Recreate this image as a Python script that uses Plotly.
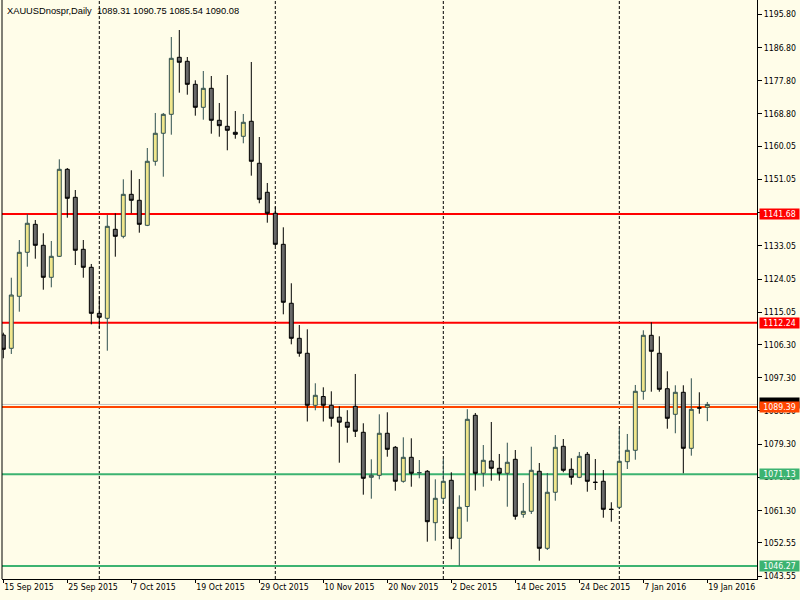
import plotly.graph_objects as go
import pandas as pd

# ---------------- data ----------------
symbol_title = "XAUUSDnospr,Daily"
holidays = ["2015-12-25", "2016-01-01"]
dates = [d for d in pd.bdate_range("2015-09-15", "2016-01-19").strftime("%Y-%m-%d") if d not in holidays]

opens = [1108.89, 1105.29, 1119.38, 1131.31, 1138.89, 1133.20, 1124.53, 1130.22, 1153.80, 1146.21,
         1132.12, 1127.24, 1114.77, 1113.42, 1137.54, 1135.64, 1147.02, 1145.40, 1138.62, 1155.97,
         1163.56, 1168.70, 1184.15, 1183.07, 1176.83, 1170.60, 1175.75, 1167.08, 1165.45, 1163.83,
         1162.74, 1166.81, 1155.43, 1147.57, 1141.88, 1133.47, 1117.49, 1108.00, 1103.94, 1089.84,
         1092.23, 1089.84, 1086.62, 1085.24, 1089.57, 1082.53, 1070.33, 1070.87, 1082.26, 1078.46,
         1069.25, 1075.75, 1071.55, 1071.96, 1058.03, 1064.64, 1069.52, 1053.80, 1062.42, 1087.13,
         1071.42, 1074.75, 1072.77, 1071.42, 1075.21, 1060.30, 1061.12, 1071.96, 1051.09, 1066.27,
         1078.73, 1072.50, 1070.33, 1076.56, 1069.00, 1069.25, 1061.68, 1062.20, 1074.56, 1077.65,
         1093.64, 1108.81, 1103.94, 1094.34, 1087.40, 1093.37, 1078.19, 1089.15, 1089.31]
highs = [1109.52, 1124.42, 1134.64, 1141.69, 1140.06, 1136.46, 1134.37, 1156.51, 1154.15, 1148.19,
         1134.64, 1128.14, 1119.38, 1141.41, 1141.88, 1151.09, 1153.53, 1151.17, 1159.57, 1169.06,
         1169.06, 1189.65, 1191.55, 1184.23, 1177.92, 1180.44, 1179.08, 1171.77, 1179.35, 1169.60,
         1168.79, 1182.88, 1162.55, 1150.09, 1143.66, 1138.08, 1122.91, 1111.60, 1110.44, 1095.81,
         1094.72, 1093.64, 1089.57, 1088.52, 1098.33, 1084.97, 1075.21, 1087.40, 1087.95, 1078.81,
         1081.17, 1080.90, 1075.02, 1072.31, 1069.79, 1075.37, 1071.69, 1065.45, 1088.79, 1087.76,
         1079.08, 1085.32, 1076.65, 1079.71, 1077.73, 1068.79, 1078.62, 1074.21, 1071.50, 1081.79,
         1080.71, 1075.48, 1077.19, 1077.19, 1075.29, 1072.31, 1063.56, 1083.61, 1082.07, 1095.35,
         1110.17, 1112.34, 1108.54, 1099.06, 1095.27, 1095.27, 1097.16, 1093.37, 1090.75]
lows = [1102.58, 1103.75, 1115.21, 1127.40, 1129.57, 1121.17, 1121.82, 1130.03, 1140.68, 1127.86,
        1124.42, 1111.79, 1110.71, 1104.64, 1130.11, 1135.10, 1141.88, 1136.62, 1138.40, 1154.78,
        1151.79, 1163.18, 1174.56, 1174.02, 1168.33, 1167.24, 1163.45, 1162.63, 1158.95, 1162.09,
        1160.85, 1152.07, 1144.59, 1139.33, 1133.01, 1114.50, 1106.37, 1103.01, 1085.45, 1088.49,
        1085.45, 1084.04, 1074.29, 1079.71, 1081.25, 1065.62, 1064.53, 1069.79, 1075.91, 1066.70,
        1068.87, 1067.78, 1070.06, 1052.88, 1053.15, 1063.29, 1050.82, 1046.38, 1058.30, 1066.75,
        1067.78, 1069.41, 1069.41, 1062.36, 1058.84, 1059.38, 1060.39, 1047.73, 1050.63, 1063.99,
        1071.69, 1068.33, 1070.10, 1066.43, 1066.89, 1059.38, 1058.30, 1061.74, 1072.58, 1075.10,
        1091.36, 1093.53, 1093.53, 1083.50, 1082.26, 1071.42, 1076.19, 1087.57, 1085.54]
closes = [1105.02, 1119.73, 1131.31, 1139.17, 1133.20, 1124.53, 1130.22, 1153.80, 1145.94, 1131.85,
          1127.24, 1114.77, 1113.69, 1138.35, 1135.64, 1147.02, 1145.40, 1138.89, 1155.97, 1163.56,
          1168.70, 1183.88, 1182.80, 1176.83, 1170.60, 1175.75, 1167.08, 1165.62, 1164.37, 1163.28,
          1166.54, 1155.97, 1145.67, 1141.88, 1133.47, 1117.76, 1108.00, 1103.94, 1089.84, 1092.55,
          1089.84, 1086.32, 1085.26, 1083.88, 1082.80, 1070.06, 1070.87, 1082.26, 1077.92, 1069.25,
          1075.75, 1071.42, 1071.60, 1058.30, 1064.64, 1069.25, 1053.80, 1062.20, 1086.05, 1071.42,
          1074.94, 1072.77, 1071.42, 1074.40, 1059.76, 1061.12, 1072.23, 1051.09, 1066.27, 1078.46,
          1072.23, 1070.33, 1076.02, 1069.25, 1068.95, 1061.66, 1061.63, 1074.67, 1077.65, 1093.64,
          1108.81, 1104.48, 1094.18, 1086.32, 1093.37, 1078.19, 1088.76, 1089.10, 1090.08]

red_levels = [1141.68, 1112.24]
orange_level = 1089.39
green_levels = [1071.13, 1046.27]

y_tick_values = [1195.80, 1186.80, 1177.80, 1168.80, 1160.05, 1151.05, 1142.05, 1133.05, 1124.05,
                 1115.05, 1106.30, 1097.30, 1088.30, 1079.30, 1070.30, 1061.30, 1052.55, 1043.55]
x_tick_labels = ["15 Sep 2015", "25 Sep 2015", "7 Oct 2015", "19 Oct 2015", "29 Oct 2015",
                 "10 Nov 2015", "20 Nov 2015", "2 Dec 2015", "14 Dec 2015", "24 Dec 2015",
                 "7 Jan 2016", "19 Jan 2016"]

# ---------------- styling ----------------
BG = "#FFFDE9"
FONT = "Tahoma, 'DejaVu Sans Condensed', 'DejaVu Sans', sans-serif"
TITLE_FONT = "'Liberation Sans', Arial, sans-serif"
TICK_SIZE = 8.7
xs = list(range(len(dates)))
tick_idx = list(range(0, len(dates), 8))
month_starts = [i for i in range(1, len(dates)) if dates[i][:7] != dates[i - 1][:7]]

fig = go.Figure()
fig.add_trace(go.Candlestick(
    x=xs, open=opens, high=highs, low=lows, close=closes,
    increasing=dict(line=dict(color="#2F4F4F", width=1), fillcolor="#F0E68C"),
    decreasing=dict(line=dict(color="#000000", width=1), fillcolor="#696969"),
    hoverinfo="skip", showlegend=False,
))

shapes = []
for i in month_starts:
    shapes.append(dict(type="line", xref="x", yref="paper", x0=i, x1=i, y0=0, y1=1,
                       line=dict(color="black", width=1, dash="3px,2px"), layer="below"))
# bid line
shapes.append(dict(type="line", xref="paper", yref="y", x0=0, x1=1, y0=closes[-1], y1=closes[-1],
                   line=dict(color="#C0C0C0", width=1), layer="below"))
for lv in red_levels:
    shapes.append(dict(type="line", xref="paper", yref="y", x0=0, x1=1, y0=lv, y1=lv,
                       line=dict(color="#FF0000", width=2), layer="below"))
shapes.append(dict(type="line", xref="paper", yref="y", x0=0, x1=1, y0=orange_level, y1=orange_level,
                   line=dict(color="#FF4500", width=2), layer="below"))
for lv in green_levels:
    shapes.append(dict(type="line", xref="paper", yref="y", x0=0, x1=1, y0=lv, y1=lv,
                       line=dict(color="#3CB371", width=2), layer="below"))
# left border
shapes.append(dict(type="line", xref="paper", yref="paper", x0=0, x1=0, y0=0, y1=1,
                   line=dict(color="black", width=1)))

annotations = []


def price_label(value, color, text_color="white", yshift=0):
    return dict(xref="paper", yref="y", x=1, y=value, xanchor="left", yanchor="middle",
                xshift=2, yshift=yshift,
                text=f"{value:.2f}", showarrow=False, bgcolor=color, width=39, height=10,
                borderpad=0, font=dict(family=FONT, size=TICK_SIZE, color=text_color))


# bid price label (mostly hidden behind the 1089.39 label, as in the reference)
annotations.append(price_label(closes[-1], "#000000", text_color="#000000", yshift=1))
for lv in red_levels:
    annotations.append(price_label(lv, "#FF0000"))
annotations.append(price_label(orange_level, "#FF4500"))
for lv in green_levels:
    annotations.append(price_label(lv, "#3CB371"))

annotations.append(dict(
    xref="paper", yref="paper", x=0, y=1, xanchor="left", yanchor="top", xshift=3, yshift=-4,
    showarrow=False, align="left",
    text=f"{symbol_title}  {opens[-1]:.2f} {highs[-1]:.2f} {lows[-1]:.2f} {closes[-1]:.2f}",
    font=dict(family=TITLE_FONT, size=9.3, color="#000000"),
))

fig.update_layout(
    width=800, height=600, autosize=False,
    paper_bgcolor=BG, plot_bgcolor=BG,
    margin=dict(l=2, r=43, t=0, b=21),
    font=dict(family=FONT, size=TICK_SIZE, color="black"),
    shapes=shapes, annotations=annotations,
    xaxis=dict(range=[-0.1625, 94.21], rangeslider=dict(visible=False),
               tickmode="array", tickvals=tick_idx, ticktext=x_tick_labels,
               ticks="outside", ticklen=3, tickcolor="black",
               ticklabelposition="outside right",
               showline=True, linecolor="black", linewidth=1,
               showgrid=False, zeroline=False, fixedrange=True),
    yaxis=dict(range=[1042.77, 1199.68], side="right",
               tickmode="array", tickvals=y_tick_values,
               ticktext=[f"{v:.2f}" for v in y_tick_values],
               ticks="outside", ticklen=4, tickcolor="black",
               showline=True, linecolor="black", linewidth=1,
               showgrid=False, zeroline=False, fixedrange=True),
)

fig.write_html(
    "out.html",
    config={"displayModeBar": False},
    post_script="document.body.style.margin='0';document.body.style.background='" + BG + "';",
)
